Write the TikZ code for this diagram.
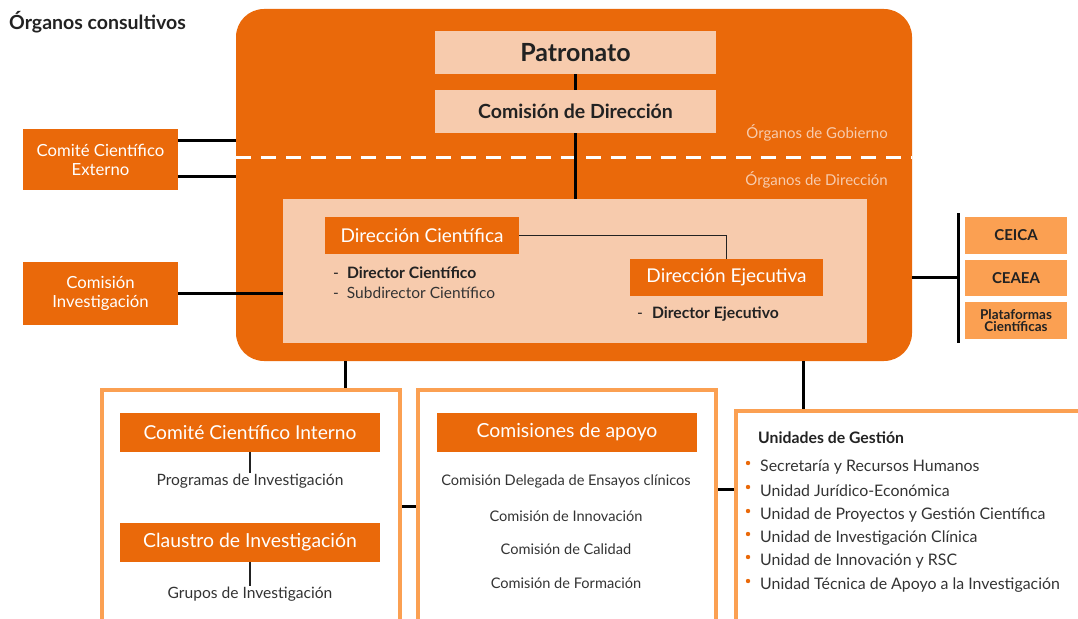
\documentclass[tikz,border=0pt]{standalone}
\usepackage{fontspec}
\setmainfont{Lato}
\definecolor{orj}{HTML}{EA690A}
\definecolor{peach}{HTML}{F7CBAD}
\definecolor{lorj}{HTML}{FBA052}
\definecolor{dark}{HTML}{222222}
\definecolor{gtxt}{HTML}{333333}
\newcommand{\fs}[1]{\fontsize{#1pt}{\dimexpr #1pt*6/5\relax}\selectfont}
\tikzset{
  obox/.style={fill=orj, text=white, inner sep=0pt, align=center},
  pbox/.style={fill=peach, text=dark, inner sep=0pt, align=center},
  lbox/.style={fill=lorj, text=dark, inner sep=0pt, align=center},
  frame/.style={draw=lorj, line width=4pt, inner sep=0pt},
  conn/.style={draw=black, line width=3pt},
  thin/.style={draw=dark, line width=1.5pt},
  plain/.style={text=gtxt, inner sep=1pt, font=\fs{14.6}},
  plainl/.style={text=gtxt, inner sep=1pt, font=\fs{15.6}},
}
\begin{document}
\begin{tikzpicture}[x=1pt,y=-1pt]
\useasboundingbox (0,0) rectangle (1078,618);
\clip (0,0) rectangle (1078,618);
% title
\node[anchor=west, text=dark, font=\fs{19.5}\bfseries, inner sep=0] (title) at (9,22) {Órganos consultivos};
% big box
\node[fill=orj, rounded corners=28pt, minimum width=676pt, minimum height=352pt, inner sep=0] (big) at (574,185) {};
\draw[white, line width=3pt, dash pattern=on 15pt off 10pt] (236,157) -- (912,157);
\node[anchor=east, text=peach, font=\fs{15}, inner sep=0] (gob) at (888,133) {Órganos de Gobierno};
\node[anchor=east, text=peach, font=\fs{15}, inner sep=0] (dir) at (888,180) {Órganos de Dirección};
\node[pbox, minimum width=281pt, minimum height=43pt, font=\fs{25}\bfseries] (pat) at (575.5,52.5) {Patronato};
\node[pbox, minimum width=281pt, minimum height=43pt, font=\fs{19.5}\bfseries] (com) at (575.5,111.5) {Comisión de Dirección};
\node[fill=peach, minimum width=584pt, minimum height=144pt, inner sep=0] (inner) at (575,271) {};
\draw[conn, line width=2.5pt] (pat.south) -- (com.north);
\draw[conn, line width=2.5pt] (com.south) -- (inner.north -| com.south);
% direccion
\node[obox, minimum width=194pt, minimum height=37pt, font=\fs{19}] (dc) at (422,235.5) {Dirección Científica};
\node[obox, minimum width=193pt, minimum height=37pt, font=\fs{19}] (de) at (726.5,277.5) {Dirección Ejecutiva};
\draw[thin] (dc.east) -| (de.north);
\node[anchor=west, text=dark, font=\fs{15.7}, inner sep=0] (dc1) at (333,273) {-\hspace{8pt}\textbf{Director Científico}};
\node[anchor=west, text=gtxt, font=\fs{15.5}, inner sep=0] (dc2) at (333,293) {-\hspace{8pt}Subdirector Científico};
\node[anchor=west, text=dark, font=\fs{15.7}, inner sep=0] (de1) at (637,314) {-\hspace{9pt}\textbf{Director Ejecutivo}};
% consultivos
\node[obox, minimum width=155pt, minimum height=61pt, font=\fs{16.7}] (cce) at (100.5,159.5) {Comité Científico\\[-1pt]Externo};
\node[obox, minimum width=155pt, minimum height=63pt, font=\fs{16.7}] (ci) at (100.5,293.5) {Comisión\\[-1pt]Investigación};
\draw[conn] (cce.east |- {(0,140)}) -- (big.west |- {(0,140)});
\draw[conn] (cce.east |- {(0,176)}) -- (big.west |- {(0,176)});
\draw[conn] (ci.east) -- (inner.west |- ci.east);
% right boxes
\node[lbox, minimum width=102pt, minimum height=37pt, font=\fs{15}\bfseries] (ceica) at (1016,235.5) {CEICA};
\node[lbox, minimum width=102pt, minimum height=36pt, font=\fs{15}\bfseries] (ceaea) at (1016,278) {CEAEA};
\node[lbox, minimum width=102pt, minimum height=37pt, font=\fs{13.5}\bfseries] (plat) at (1016,320.5) {Plataformas\\[-4pt]Científicas};
\coordinate (bt) at (958,213);
\coordinate (bb) at (958,343);
\coordinate (bm) at (958,277);
\draw[conn] (big.east |- bm) -- (bm);
\draw[conn] (bt) -- (bb);
% bottom frames
\node[frame, minimum width=298pt, minimum height=240pt] (lf) at (251,510) {};
\node[frame, minimum width=298pt, minimum height=240pt] (mf) at (567,510) {};
\node[frame, minimum width=360pt, minimum height=220pt] (rf) at (916,521) {};
\draw[conn] (big.south -| {(345,0)}) -- (lf.north -| {(345,0)});
\draw[conn] (big.south -| {(803,0)}) -- (rf.north -| {(803,0)});
\draw[conn] (lf.east |- {(0,506)}) -- (mf.west |- {(0,506)});
\draw[conn] (mf.east |- {(0,489)}) -- (rf.west |- {(0,489)});
% left frame content
\node[obox, minimum width=260pt, minimum height=39pt, font=\fs{19.2}] (cci) at (250,432.5) {Comité Científico Interno};
\node[plainl] (prog) at (250,481) {Programas de Investigación};
\draw[thin] (cci.south) -- (prog.north);
\node[obox, minimum width=260pt, minimum height=39pt, font=\fs{19.4}] (cla) at (250,542.5) {Claustro de Investigación};
\node[plainl] (gru) at (250,594) {Grupos de Investigación};
\draw[thin] (cla.south) -- (gru.north);
% middle frame content
\node[obox, minimum width=260pt, minimum height=39pt, font=\fs{19.4}] (cda) at (567,432.5) {Comisiones de apoyo};
\node[plain] (m1) at (566,481) {Comisión Delegada de Ensayos clínicos};
\node[plain] (m2) at (566,516) {Comisión de Innovación};
\node[plain] (m3) at (566,549) {Comisión de Calidad};
\node[plain] (m4) at (566,583) {Comisión de Formación};
% right frame content
\node[anchor=west, text=dark, font=\fs{15.8}\bfseries, inner sep=0] (ug) at (758,438) {Unidades de Gestión};
\foreach \y/\t [count=\i] in {467/Secretaría y Recursos Humanos,491/Unidad Jurídico-Económica,515/Unidad de Proyectos y Gestión Científica,538/Unidad de Investigación Clínica,561/Unidad de Innovación y RSC,585/Unidad Técnica de Apoyo a la Investigación}{
  \node[anchor=west, text=gtxt, font=\fs{15.9}, inner sep=0] (u\i) at (760,\y) {\t};
  \fill[orj] (748,\y-4) circle (2.2pt);
}
\end{tikzpicture}
\end{document}
